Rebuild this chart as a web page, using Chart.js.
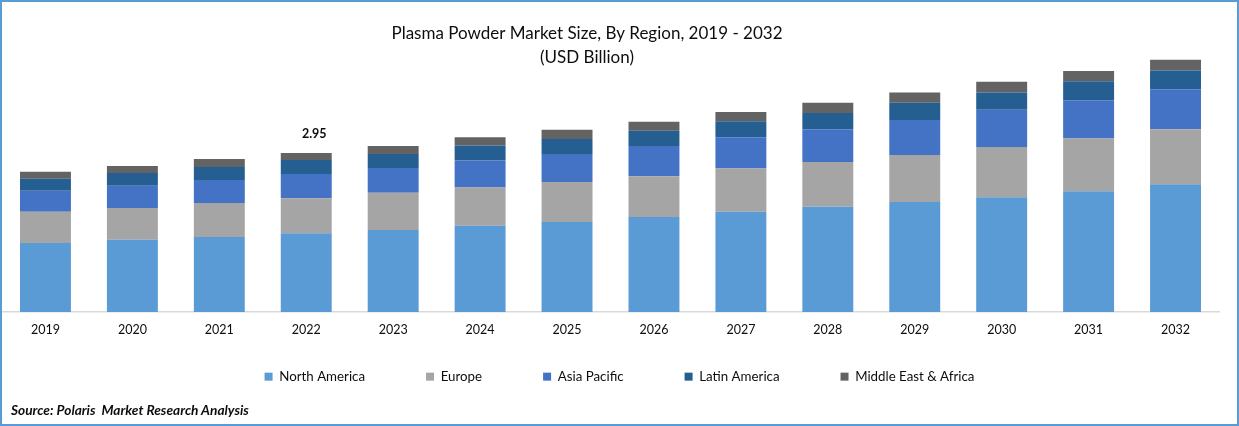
<!DOCTYPE html>
<html>
<head>
<meta charset="utf-8">
<script src="https://cdn.jsdelivr.net/npm/chart.js@4"></script>
<style>
html,body{margin:0;padding:0;background:#fff;overflow:hidden}
#wrap{position:relative;width:1239px;height:426px}
canvas{display:block}
#frame{position:absolute;inset:0;box-sizing:border-box;border:2px solid #5b9bd5;pointer-events:none}
#source{position:absolute;left:11px;top:401px;font:italic 700 13.7px Lato,sans-serif;color:#0d0d0d;white-space:pre}
</style>
</head>
<body>
<div id="wrap">
<canvas id="c" width="1239" height="426"></canvas>
<div id="frame"></div>
<div id="source">Source: Polaris  Market Research Analysis</div>
</div>
<script>
const years = ["2019","2020","2021","2022","2023","2024","2025","2026","2027","2028","2029","2030","2031","2032"];
const northAmerica = [1.28,1.34,1.39,1.46,1.52,1.60,1.67,1.76,1.86,1.95,2.04,2.13,2.24,2.37];
const europe       = [0.58,0.59,0.63,0.65,0.69,0.71,0.74,0.76,0.80,0.83,0.87,0.93,0.98,1.02];
const asiaPacific  = [0.39,0.41,0.43,0.45,0.46,0.50,0.52,0.56,0.58,0.61,0.65,0.69,0.71,0.74];
const latinAmerica = [0.22,0.24,0.24,0.26,0.26,0.28,0.28,0.28,0.30,0.30,0.32,0.32,0.35,0.35];
const middleEast   = [0.13,0.13,0.15,0.13,0.15,0.15,0.17,0.17,0.17,0.19,0.19,0.20,0.19,0.20];
const titleLines = ["Plasma Powder Market Size, By Region, 2019 - 2032","(USD Billion)"];
const labelledYear = "2022";
const FONT = "Lato, sans-serif";
const INK = "#0d0d0d";
const LEGEND_PAD = 61;

const totalLabel = {
  id:"totalLabel",
  afterDatasetsDraw(chart){
    const i = years.indexOf(labelledYear);
    const total = chart.data.datasets.reduce((s,d)=>s+d.data[i],0);
    const x = chart.scales.x.getPixelForValue(i)+8;
    const y = chart.scales.y.getPixelForValue(total)-19;
    const ctx = chart.ctx;
    ctx.save();
    ctx.font = "700 12.5px "+FONT;
    ctx.fillStyle = INK;
    ctx.textAlign = "center";
    ctx.textBaseline = "middle";
    ctx.fillText(total.toFixed(2),x,y);
    ctx.restore();
  }
};
const compactLegend = {
  id:"compactLegend",
  beforeInit(chart){
    const legend = chart.legend, fit = legend.fit;
    legend.fit = function(){ fit.call(this); this.height = 20; };
  },
  afterLayout(chart){
    const l = chart.legend;
    l.top -= LEGEND_PAD - 23;
    l.bottom += 60;
    l.left += 9;
    l.right += 9;
    const t = chart.titleBlock;
    t.left -= 23.5;
    t.right -= 23.5;
  }
};

new Chart(document.getElementById("c"),{
  type:"bar",
  data:{labels:years,datasets:[
    {label:"North America",data:northAmerica,backgroundColor:"#5b9bd5"},
    {label:"Europe",data:europe,backgroundColor:"#a5a5a5"},
    {label:"Asia Pacific",data:asiaPacific,backgroundColor:"#4472c4"},
    {label:"Latin America",data:latinAmerica,backgroundColor:"#255e91"},
    {label:"Middle East & Africa",data:middleEast,backgroundColor:"#636363"}
  ]},
  plugins:[totalLabel,compactLegend],
  options:{
    responsive:false,
    animation:false,
    devicePixelRatio:1,
    layout:{padding:{left:2,right:20,top:0,bottom:59}},
    datasets:{bar:{barPercentage:0.586,categoryPercentage:1}},
    scales:{
      x:{stacked:true,
        grid:{display:false,drawTicks:false},
        border:{display:true,color:"#d9d9d9",width:1.5},
        ticks:{color:INK,font:{family:FONT,size:12.5},padding:10,maxRotation:0}},
      y:{stacked:true,display:false,min:0,max:5}
    },
    plugins:{
      title:{display:true,text:titleLines,color:INK,align:"center",
        font:{family:FONT,size:17,weight:"400",lineHeight:1.41},
        padding:{top:22,bottom:-27.5}},
      legend:{position:"bottom",align:"center",
        labels:{boxWidth:8,boxHeight:8,padding:LEGEND_PAD,color:INK,font:{family:FONT,size:13.3}}},
      tooltip:{enabled:false}
    }
  }
});
</script>
</body>
</html>
